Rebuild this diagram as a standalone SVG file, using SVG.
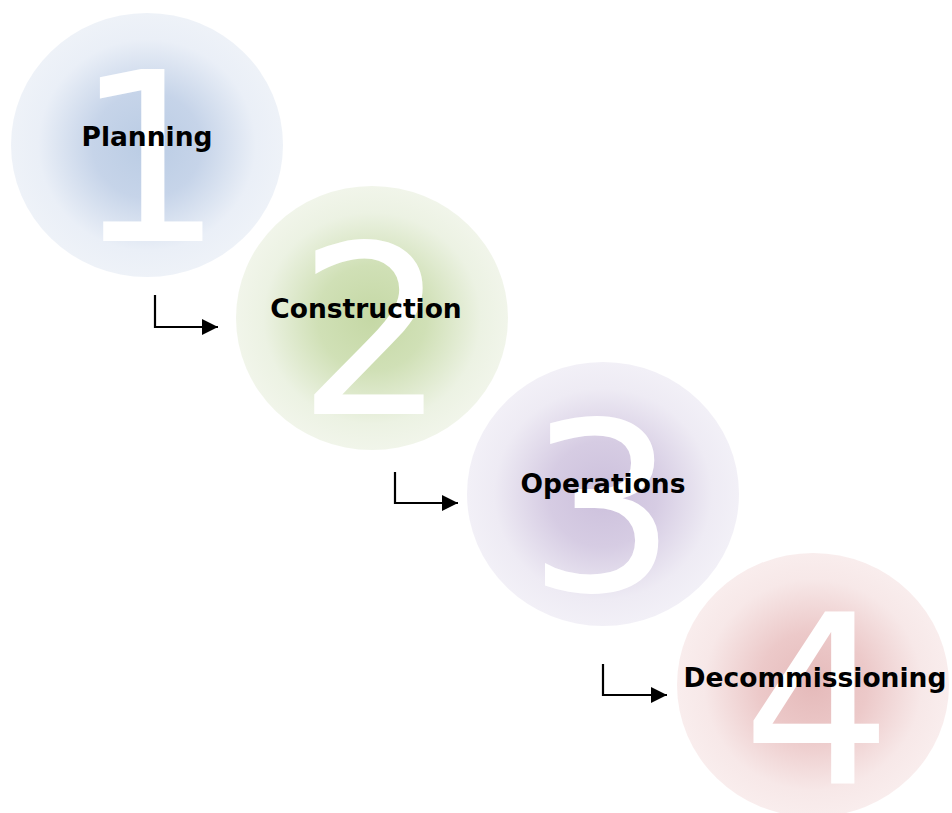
<svg xmlns="http://www.w3.org/2000/svg" width="952" height="813" viewBox="0 0 952 813">
<defs>
<radialGradient id="gBlue" cx="0.5" cy="0.5" r="0.5">
<stop offset="0" stop-color="#bacce4"/>
<stop offset="0.4" stop-color="#c6d4e9"/>
<stop offset="0.8" stop-color="#eaeff7"/>
<stop offset="1" stop-color="#eef2f8"/>
</radialGradient>
<radialGradient id="gGreen" cx="0.5" cy="0.5" r="0.5">
<stop offset="0" stop-color="#c5d8a5"/>
<stop offset="0.4" stop-color="#d0e0b6"/>
<stop offset="0.8" stop-color="#ecf2e3"/>
<stop offset="1" stop-color="#f1f5ea"/>
</radialGradient>
<radialGradient id="gPurple" cx="0.5" cy="0.5" r="0.5">
<stop offset="0" stop-color="#ccc0dc"/>
<stop offset="0.4" stop-color="#d6cce3"/>
<stop offset="0.8" stop-color="#eeebf4"/>
<stop offset="1" stop-color="#f2f0f7"/>
</radialGradient>
<radialGradient id="gRed" cx="0.5" cy="0.5" r="0.5">
<stop offset="0" stop-color="#e5baba"/>
<stop offset="0.4" stop-color="#ecc9c9"/>
<stop offset="0.8" stop-color="#f7e8e8"/>
<stop offset="1" stop-color="#f9eded"/>
</radialGradient>
<marker id="arr" viewBox="0 0 10 10" refX="10" refY="5" markerWidth="16" markerHeight="16" markerUnits="userSpaceOnUse" orient="auto">
<path d="M0,0 L10,5 L0,10 Z" fill="#000"/>
</marker>
</defs>
<style>
.num{font-family:"DejaVu Sans",Verdana,sans-serif;font-size:236px;fill:#ffffff;text-anchor:middle}
.lbl{font-family:"DejaVu Sans",Verdana,sans-serif;font-weight:bold;font-size:26.5px;fill:#000;text-anchor:middle}
.conn{fill:none;stroke:#000;stroke-width:2.2}
</style>
<rect width="952" height="813" fill="#ffffff"/>
<g id="node1">
<ellipse cx="147" cy="145" rx="136" ry="132" fill="url(#gBlue)"/>
<text class="num" x="149" y="241">1</text>
<text class="lbl" x="147" y="146">Planning</text>
</g>
<g id="node2">
<ellipse cx="372" cy="318" rx="136" ry="132" fill="url(#gGreen)"/>
<text class="num" x="372" y="414">2</text>
<text class="lbl" x="366" y="318">Construction</text>
</g>
<g id="node3">
<ellipse cx="603" cy="494" rx="136" ry="132" fill="url(#gPurple)"/>
<text class="num" x="602" y="591">3</text>
<text class="lbl" x="603" y="493">Operations</text>
</g>
<g id="node4">
<ellipse cx="813" cy="685" rx="136" ry="132" fill="url(#gRed)"/>
<text class="num" x="817" y="784">4</text>
<text class="lbl" x="815" y="687">Decommissioning</text>
</g>
<g id="connectors">
<path class="conn" d="M155,295 V327 H218" marker-end="url(#arr)"/>
<path class="conn" d="M395,472 V503 H458" marker-end="url(#arr)"/>
<path class="conn" d="M603,664 V695 H667" marker-end="url(#arr)"/>
</g>
</svg>
